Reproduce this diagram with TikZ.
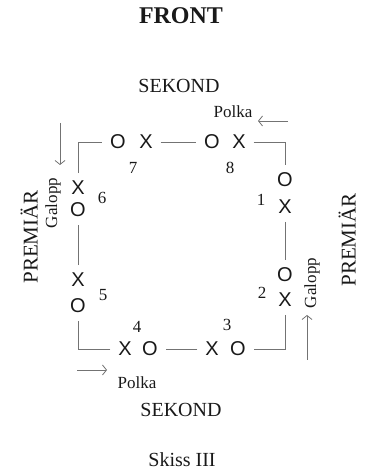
\documentclass[tikz,border=0pt]{standalone}
\usepackage{fontspec}
\setmainfont{Liberation Serif}
\newfontfamily\dancerfont{Liberation Sans}
\usepackage{tikz}
\usetikzlibrary{positioning, arrows.meta}
\tikzstyle{heading} = [font=\fontsize{20}{24}\selectfont, text=black!90, inner sep=0pt]
\tikzstyle{title}   = [font=\bfseries\fontsize{24}{28}\selectfont, text=black!90, inner sep=0pt]
\tikzstyle{side}    = [font=\fontsize{21}{25}\selectfont, text=black!90, inner sep=0pt, rotate=90]
\tikzstyle{dance}   = [font=\fontsize{17}{20}\selectfont, text=black!90, inner sep=0pt]
\tikzstyle{dancer}  = [font=\dancerfont\fontsize{20}{23}\selectfont, text=black!90, inner sep=0pt, outer sep=8pt]
\tikzstyle{number}  = [font=\fontsize{17}{20}\selectfont, text=black!90, inner sep=0pt]
\tikzstyle{line}    = [black!55, line width=0.8pt]

\begin{document}
\begin{tikzpicture}[x=1pt, y=1pt, >={Straight Barb[length=4pt, width=10pt]}]
            \useasboundingbox (0,0) rectangle (370,472);

            % headings
            \node[title]   (front)   at (181,456) {FRONT};
            \node[heading] (sekTop)  at (179,386) {SEKOND};
            \node[heading] (sekBot)  at (181,62)  {SEKOND};
            \node[heading] (skiss)   at (182,12)  {Skiss III};
            \node[side]    (premL)   at (29,235)  {PREMIÄR};
            \node[side]    (premR)   at (347,232) {PREMIÄR};

            % dancers, top row
            \node[dancer] (o7) at (118,330) {O};
            \node[dancer] (x7) at (146,330) {X};
            \node[dancer] (o8) at (212,330) {O};
            \node[dancer] (x8) at (239,330) {X};
            % right column
            \node[dancer] (o1) at (285,292) {O};
            \node[dancer] (x1) at (285,265) {X};
            \node[dancer] (o2) at (285,197) {O};
            \node[dancer] (x2) at (285,172) {X};
            % bottom row
            \node[dancer] (x4) at (125,123) {X};
            \node[dancer] (o4) at (150,123) {O};
            \node[dancer] (x3) at (212,123) {X};
            \node[dancer] (o3) at (238,123) {O};
            % left column
            \node[dancer] (x6) at (78,284) {X};
            \node[dancer] (o6) at (78,262) {O};
            \node[dancer] (x5) at (78,192) {X};
            \node[dancer] (o5) at (78,166) {O};

            % couple numbers
            \node[number] (n1) at (261,272) {1};
            \node[number] (n2) at (262,179) {2};
            \node[number] (n3) at (227,147) {3};
            \node[number] (n4) at (137,145) {4};
            \node[number] (n5) at (103,177) {5};
            \node[number] (n6) at (102,274) {6};
            \node[number] (n7) at (133,304) {7};
            \node[number] (n8) at (230,304) {8};

            % corners
            \coordinate (cTL) at (78,330);
            \coordinate (cTR) at (285,330);
            \coordinate (cBR) at (285,123);
            \coordinate (cBL) at (78,123);

            \draw[line] (x6) -- (cTL) -- (o7);
            \draw[line] (x7) -- (o8);
            \draw[line] (x8) -- (cTR) -- (o1);
            \draw[line] (x1) -- (o2);
            \draw[line] (x2) -- (cBR) -- (o3);
            \draw[line] (x3) -- (o4);
            \draw[line] (x4) -- (cBL) -- (o5);
            \draw[line] (x5) -- (o6);

            % dances and their directions
            \node[dance] (polkaTop) at (233,360) {Polka};
            \node[dance] (polkaBot) at (137,89)  {Polka};
            \node[dance, rotate=90] (galoppL) at (53,269)  {Galopp};
            \node[dance, rotate=90] (galoppR) at (312,189) {Galopp};

            \coordinate (pTs) at (288,351);
            \coordinate (pTe) at (258,351);
            \coordinate (pBs) at (77,102);
            \coordinate (pBe) at (107,102);
            \coordinate (gLs) at (60,349);
            \coordinate (gLe) at (60,307);
            \coordinate (gRs) at (307,112);
            \coordinate (gRe) at (307,157);

            \draw[->, line] (pTs) -- (pTe);
            \draw[->, line] (pBs) -- (pBe);
            \draw[->, line] (gLs) -- (gLe);
            \draw[->, line] (gRs) -- (gRe);
        \end{tikzpicture}
\end{document}
